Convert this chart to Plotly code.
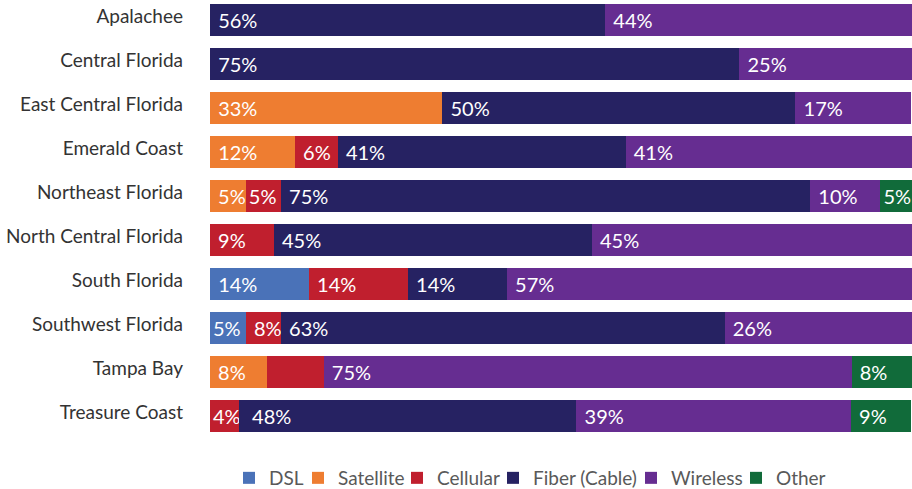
import plotly.graph_objects as go

regions = ["Apalachee", "Central Florida", "East Central Florida", "Emerald Coast",
           "Northeast Florida", "North Central Florida", "South Florida",
           "Southwest Florida", "Tampa Bay", "Treasure Coast"]

series_names = ["DSL", "Satellite", "Cellular", "Fiber (Cable)", "Wireless", "Other"]
colors = ["#4a72b8", "#ee7d31", "#c01f2e", "#262262", "#662d91", "#116b3a"]

# Segment widths (percent of bar)
dsl       = [0, 0, 0, 0, 0, 0, 14.1, 5.1, 0, 0]
satellite = [0, 0, 33.1, 12.1, 5.1, 0, 0, 0, 8.1, 0]
cellular  = [0, 0, 0, 6.1, 5.0, 9.1, 14.1, 5.0, 8.1, 4.1]
fiber     = [56.3, 75.4, 50.3, 41.0, 75.4, 45.3, 14.1, 63.2, 0, 48.1]
wireless  = [43.7, 24.6, 16.5, 40.8, 10.0, 45.6, 57.7, 26.7, 75.2, 39.1]
other     = [0, 0, 0, 0, 4.6, 0, 0, 0, 8.6, 8.6]

# Printed labels
dsl_lbl       = ["", "", "", "", "", "", "14%", "5%", "", ""]
satellite_lbl = ["", "", "33%", "12%", "5%", "", "", "", "8%", ""]
cellular_lbl  = ["", "", "", "6%", "5%", "9%", "14%", "8%", "", "4%"]
fiber_lbl     = ["56%", "75%", "50%", "41%", "75%", "45%", "14%", "63%", "", "48%"]
wireless_lbl  = ["44%", "25%", "17%", "41%", "10%", "45%", "57%", "26%", "75%", "39%"]
other_lbl     = ["", "", "", "", "5%", "", "", "", "8%", "9%"]

values = [dsl, satellite, cellular, fiber, wireless, other]
labels = [dsl_lbl, satellite_lbl, cellular_lbl, fiber_lbl, wireless_lbl, other_lbl]

# label padding (number of leading spaces) for cramped segments: (series, row) -> n
tight = {(0, 7): 0, (2, 4): 0, (2, 9): 0, (3, 9): 2, (5, 4): 0}

# legend entry text start (px) in the reference
legend_text_px = [273, 342, 441, 537, 675, 780]
plot_left, plot_w = 210, 702

fig = go.Figure()
for i, (name, col, vals, lbls) in enumerate(zip(series_names, colors, values, labels)):
    txt = []
    for j, t in enumerate(lbls):
        n = tight.get((i, j), 1)
        txt.append((" " * n + t) if t else "")
    lg = "legend" if i == 0 else f"legend{i+1}"
    fig.add_trace(go.Bar(
        y=regions, x=vals, name=name, orientation="h",
        marker=dict(color=col, line=dict(width=0)),
        text=txt, texttemplate="%{text}",
        textposition="inside", insidetextanchor="start", constraintext="none",
        textangle=0,
        textfont=dict(family="Lato", size=20, color="white"),
        hoverinfo="skip", legend=lg,
    ))

layout_legends = {}
for i, tx in enumerate(legend_text_px):
    lg = "legend" if i == 0 else f"legend{i+1}"
    layout_legends[lg] = dict(
        orientation="h", x=(tx - 44 - plot_left) / plot_w, xanchor="left",
        y=-0.0913, yanchor="middle",
        font=dict(family="Lato", size=19, color="#595959"),
        itemwidth=30, bgcolor="rgba(0,0,0,0)")

fig.update_layout(
    barmode="stack",
    bargap=0.273,
    width=912, height=489,
    margin=dict(l=210, r=0, t=0, b=51, autoexpand=False),
    paper_bgcolor="white", plot_bgcolor="white",
    font=dict(family="Lato", color="#333333"),
    showlegend=True,
    **layout_legends,
)
fig.update_xaxes(range=[0, 100], visible=False, fixedrange=True)
fig.update_yaxes(range=[9.5, -0.4545], showgrid=False, zeroline=False,
                 showline=False, ticks="", ticklabelstandoff=26, ticklabelshift=4,
                 tickfont=dict(family="Lato", size=19, color="#333333"))

fig.write_html("out.html")
